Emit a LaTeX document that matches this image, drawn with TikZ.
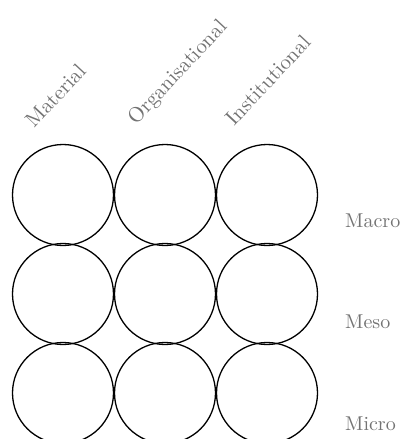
\documentclass[tikz,border=0pt]{standalone}
\usepackage{fontspec}
\setmainfont{lmroman10-regular.otf}
\begin{document}
\begin{tikzpicture}[x=1pt,y=-1pt,
  cell/.style={draw=black, line width=1.3pt, circle, minimum size=101pt, inner sep=0pt},
  collab/.style={text=black!55, font=\fontsize{21}{25}\selectfont, rotate=47, anchor=base west, inner sep=0pt},
  rowlab/.style={text=black!55, font=\fontsize{20}{24}\selectfont, anchor=base west, inner sep=0pt}]
\useasboundingbox (0,0) rectangle (402,439);
\foreach \c/\x in {1/63,2/165,3/267}{
  \foreach \r/\y in {1/195,2/294,3/393}{
    \node[cell] (c\r\c) at (\x,\y) {};
  }
}
\node[collab] (material) at (34,129) {Material};
\node[collab] (organisational) at (136,126) {Organisational};
\node[collab] (institutional) at (234,127) {Institutional};
\node[rowlab] (macro) at (345,227) {Macro};
\node[rowlab] (meso) at (345,328) {Meso};
\node[rowlab] (micro) at (345,430) {Micro};
\end{tikzpicture}
\end{document}
